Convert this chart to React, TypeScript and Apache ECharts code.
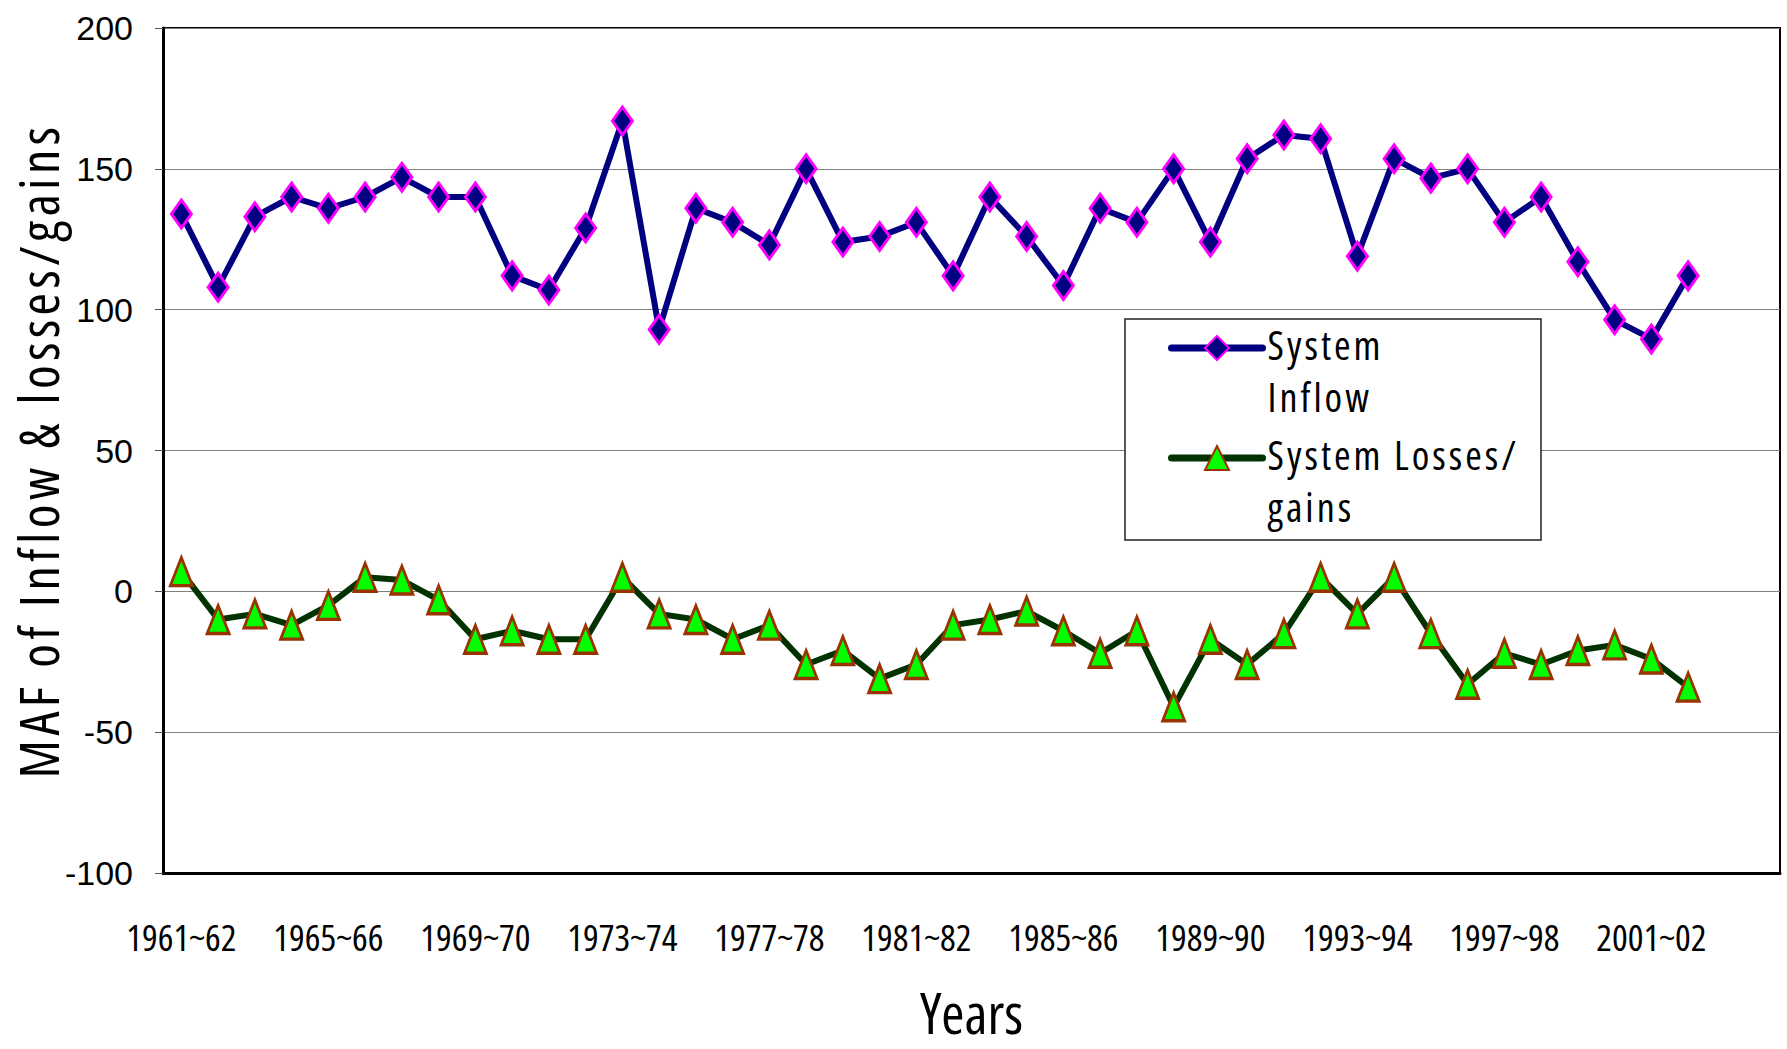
import React, { useEffect, useRef } from "react";
import * as echarts from "echarts";

const years = [
  "1961~62", "1962~63", "1963~64", "1964~65", "1965~66", "1966~67", "1967~68", "1968~69",
  "1969~70", "1970~71", "1971~72", "1972~73", "1973~74", "1974~75", "1975~76", "1976~77",
  "1977~78", "1978~79", "1979~80", "1980~81", "1981~82", "1982~83", "1983~84", "1984~85",
  "1985~86", "1986~87", "1987~88", "1988~89", "1989~90", "1990~91", "1991~92", "1992~93",
  "1993~94", "1994~95", "1995~96", "1996~97", "1997~98", "1998~99", "1999~00", "2000~01",
  "2001~02", "2002~03", "2003~04", "2004~05",
];

const systemInflow = [
  134, 108, 133, 140, 136, 140, 147, 140, 140, 112, 107, 129, 167, 93, 136,
  131, 123, 150, 124, 126, 131, 112, 140, 126, 108.6, 136, 131, 150, 124,
  153.6, 162, 160.7, 119, 153.6, 146.7, 150, 131, 140, 117, 96.4, 89.6, 112,
];

const systemLosses = [
  7, -10, -8, -12, -5, 5, 4, -3, -17, -14, -17, -17, 5, -8, -10,
  -17, -12, -26, -21, -31, -26, -12, -10, -7, -14, -22, -14, -41, -17,
  -26, -15, 5, -8, 5, -15, -33, -22, -26, -21, -19, -24, -34,
];

const yTicks = { min: -100, max: 200, interval: 50 };

const seriesNames = ["System Inflow", "System Losses/gains"];
const legendLines: Record<string, string[]> = {
  "System Inflow": ["System", "Inflow"],
  "System Losses/gains": ["System Losses/", "gains"],
};

const COND = "Open Sans;font-stretch:condensed";
const COND_NAME = "Open Sans;font-stretch:condensed;letter-spacing:4.5px";
const COND_LEG = "Open Sans;font-stretch:condensed;letter-spacing:3px";
const ARIAL = "'Liberation Sans', Arial, sans-serif";

export default function App() {
  const ref = useRef<HTMLDivElement>(null);
  useEffect(() => {
    if (!ref.current) return;
    const chart = echarts.init(ref.current, null, { renderer: "svg" });
    chart.setOption({
      animation: false,
      backgroundColor: "#ffffff",
      grid: {
        left: 163,
        top: 28,
        right: 7,
        bottom: 176,
        show: true,
        borderColor: "#000",
        borderWidth: 2,
        backgroundColor: "transparent",
        outerBoundsMode: "none",
        containLabel: false,
      },
      xAxis: {
        type: "category",
        data: years,
        boundaryGap: true,
        name: "Years",
        nameLocation: "middle",
        nameGap: 112,
        nameMoveOverlap: false,
        nameTextStyle: { fontFamily: COND, fontSize: 56, lineHeight: 54, color: "#000" },
        axisLine: { show: true, onZero: false, lineStyle: { color: "#000", width: 3 } },
        axisTick: { show: false },
        axisLabel: {
          interval: 3,
          margin: 44,
          showMinLabel: true,
          fontFamily: COND,
          fontSize: 37,
          lineHeight: 38,
          color: "#000",
        },
        splitLine: { show: false },
      },
      yAxis: {
        type: "value",
        min: yTicks.min,
        max: yTicks.max,
        interval: yTicks.interval,
        name: "MAF of Inflow & losses/gains",
        nameLocation: "middle",
        nameRotate: 90,
        nameGap: 95,
        nameMoveOverlap: false,
        nameTextStyle: { fontFamily: COND_NAME, fontSize: 54, lineHeight: 60, color: "#000" },
        axisLine: { show: true, lineStyle: { color: "#000", width: 3 } },
        axisTick: { show: true, length: 8, lineStyle: { color: "#555", width: 1 } },
        axisLabel: { margin: 30, fontFamily: ARIAL, fontSize: 34, color: "#000" },
        splitLine: { show: true, lineStyle: { color: "#808080", width: 1 } },
      },
      legend: {
        orient: "vertical",
        left: 1168,
        top: 291,
        padding: 0,
        itemGap: -1,
        itemWidth: 91,
        itemHeight: 30,
        selectedMode: false,
        data: seriesNames,
        lineStyle: { width: 7, cap: "round" },
        formatter: (name: string) => {
          const lines = legendLines[name] || [name];
          return "{p| }\n" + lines.map((l) => "{t|" + l + "}").join("\n");
        },
        textStyle: {
          color: "#000",
          rich: {
            p: { fontSize: 10, lineHeight: 44 },
            t: { fontFamily: COND_LEG, fontSize: 40, lineHeight: 52, color: "#000" },
          },
        },
      },
      graphic: [
        {
          type: "rect",
          z: 3,
          shape: { x: 1125, y: 319, width: 416, height: 221 },
          style: { fill: "#fff", stroke: "#222", lineWidth: 1.5 },
        },
      ],
      series: [
        {
          name: seriesNames[0],
          type: "line",
          data: systemInflow,
          symbol: "diamond",
          symbolSize: [20, 28],
          showAllSymbol: true,
          lineStyle: { color: "#000080", width: 6 },
          itemStyle: { color: "#000080", borderColor: "#FF00FF", borderWidth: 3 },
          z: 3,
        },
        {
          name: seriesNames[1],
          type: "line",
          data: systemLosses,
          symbol: "triangle",
          symbolSize: [22, 28],
          showAllSymbol: true,
          lineStyle: { color: "#003300", width: 6 },
          itemStyle: { color: "#00FF00", borderColor: "#993300", borderWidth: 3 },
          z: 3,
        },
      ],
    });
    return () => chart.dispose();
  }, []);
  return (
    <div
      ref={ref}
      style={{ position: "fixed", left: 0, top: 0, width: 1787, height: 1049, background: "#fff" }}
    />
  );
}
